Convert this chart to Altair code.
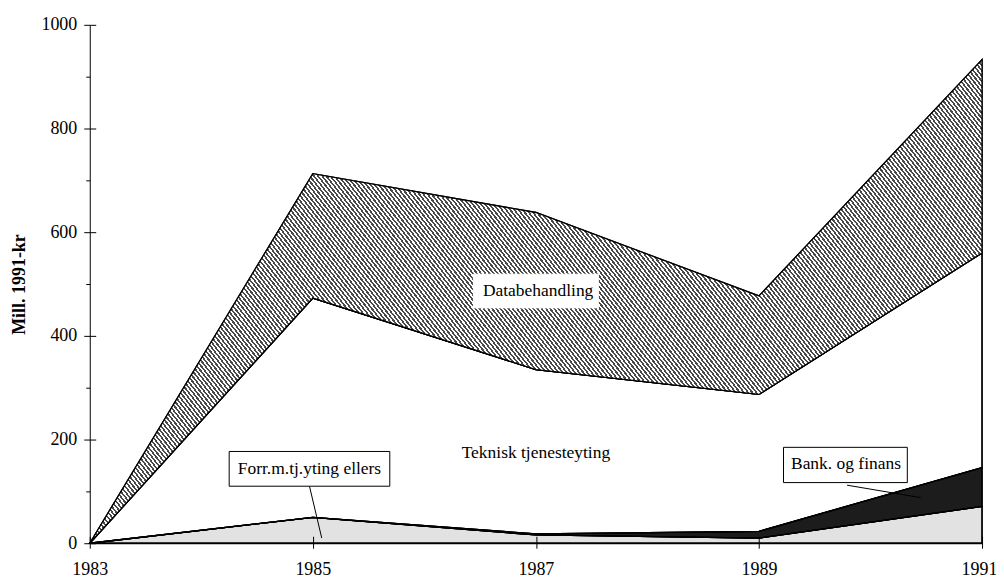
import altair as alt
import pandas as pd

years = [1983, 1985, 1987, 1989, 1991]
series_names = ["Forr.m.tj.yting ellers", "Bank. og finans", "Teknisk tjenesteyting", "Databehandling"]
forr = [0, 50, 16, 10, 71]
bank = [0, 0, 2, 13, 75]
teknisk = [0, 423, 317, 264, 414]
databeh = [0, 240, 303, 190, 373]
fills = ["#e2e2e2", "#1c1c1c", "#ffffff", "#a0a0a0"]

x_ticks = [1983, 1985, 1987, 1989, 1991]
y_ticks = list(range(0, 1001, 100))

# annotation texts (data coordinates)
ann_text = ["Databehandling", "Teknisk tjenesteyting", "Forr.m.tj.yting ellers", "Bank. og finans"]
ann_x = [1987.02, 1987.0, 1984.97, 1989.78]
ann_y = [487, 175, 143, 153]
box_x1 = [1986.44, 1984.25, 1989.22]
box_x2 = [1987.56, 1985.69, 1990.33]
box_y1 = [454, 110, 117]
box_y2 = [519, 177, 185]
box_border = ["white", "black", "black"]
lead_x1 = [1984.97, 1989.79]
lead_x2 = [1985.08, 1990.45]
lead_y1 = [110, 112]
lead_y2 = [10, 88]

FONT = "Liberation Serif"

rows = []
for rank, (name, vals) in enumerate(zip(series_names, [forr, bank, teknisk, databeh])):
    for yr, v in zip(years, vals):
        rows.append({"year": yr, "value": v, "series": name, "rank": rank})
df = pd.DataFrame(rows)

x_scale = alt.Scale(domain=[1983, 1991], nice=False, zero=False)
y_scale = alt.Scale(domain=[0, 1000], nice=False)

major = "datum.value % 200 == 0"

x_axis = alt.Axis(values=x_ticks, format="d", title=None, tickSize=5,
                  labelPadding=12, labelFont=FONT, labelFontSize=18,
                  labelColor="black", domainColor="black", tickColor="black",
                  labelOffset={"condition": {"test": "datum.value == 1991", "value": -3}, "value": 0},
                  grid=True, gridDash=[0, 513, 7, 3000], gridColor="black", gridWidth=1,
                  labelFlush=False, zindex=1)
y_axis = alt.Axis(values=y_ticks, format="d",
                  labelExpr="datum.value % 200 == 0 ? datum.label : ''",
                  tickSize={"condition": {"test": major, "value": 6}, "value": 4},
                  labelPadding=7, labelFont=FONT, labelFontSize=18, labelColor="black",
                  domainColor="black", tickColor="black",
                  grid=True, gridDash=[6, 3000], gridColor="black", gridWidth=1,
                  gridOpacity={"condition": {"test": major, "value": 1}, "value": 0},
                  title="Mill. 1991-kr", titleFont=FONT, titleFontSize=18,
                  titleFontWeight="bold", titleColor="black",
                  titleX=-70, titleY=260, titleAngle=-90,
                  titleAlign="center", titleBaseline="middle",
                  labelFlush=False, zindex=1)

# fine diagonal hatch (striped gradient) for Databehandling
n_stripes = 330
stops = []
for i in range(n_stripes):
    a = i / n_stripes
    b = (i + 0.5) / n_stripes
    c = (i + 1) / n_stripes
    stops += [{"offset": a, "color": "#4a4a4a"}, {"offset": b, "color": "#4a4a4a"},
              {"offset": b, "color": "#ffffff"}, {"offset": c, "color": "#ffffff"}]
hatch = {"gradient": "linear", "x1": 0, "y1": 1, "x2": 1.3, "y2": 0.45, "stops": stops}

areas = alt.Chart(df).mark_area(stroke="black", strokeWidth=1.3, opacity=1).encode(
    x=alt.X("year:Q", scale=x_scale, axis=x_axis, title=None),
    y=alt.Y("value:Q", stack="zero", scale=y_scale, axis=y_axis, title="Mill. 1991-kr"),
    color=alt.Color("series:N", scale=alt.Scale(domain=series_names, range=fills), legend=None),
    order=alt.Order("rank:Q", sort="ascending"),
)

hatched = alt.Chart(df).mark_area(stroke="black", strokeWidth=1.3).encode(
    x=alt.X("year:Q", scale=x_scale, axis=x_axis, title=None),
    y=alt.Y("value:Q", stack="zero", scale=y_scale, axis=y_axis, title="Mill. 1991-kr"),
    detail="series:N",
    fill=alt.condition(alt.datum.series == "Databehandling", alt.value(hatch), alt.value("transparent")),
    order=alt.Order("rank:Q", sort="ascending"),
)

ann_df = pd.DataFrame({"t": ann_text, "x": ann_x, "y": ann_y})
box_df = pd.DataFrame({"x1": box_x1, "x2": box_x2, "y1": box_y1, "y2": box_y2, "b": box_border})
lead_df = pd.DataFrame({"x1": lead_x1, "x2": lead_x2, "y1": lead_y1, "y2": lead_y2})

leaders = alt.Chart(lead_df).mark_rule(color="black", strokeWidth=1).encode(
    x=alt.X("x1:Q", scale=x_scale, axis=x_axis, title=None), x2="x2:Q",
    y=alt.Y("y1:Q", scale=y_scale, axis=y_axis, title="Mill. 1991-kr"), y2="y2:Q",
)

boxes = alt.Chart(box_df).mark_rect(fill="white", strokeWidth=1).encode(
    x=alt.X("x1:Q", scale=x_scale, axis=x_axis, title=None), x2="x2:Q",
    y=alt.Y("y1:Q", scale=y_scale, axis=y_axis, title="Mill. 1991-kr"), y2="y2:Q",
    stroke=alt.Stroke("b:N", scale=None),
)

texts = alt.Chart(ann_df).mark_text(font=FONT, fontSize=17.5, color="black",
                                    align="center", baseline="middle").encode(
    x=alt.X("x:Q", scale=x_scale, axis=x_axis, title=None),
    y=alt.Y("y:Q", scale=y_scale, axis=y_axis, title="Mill. 1991-kr"),
    text="t:N",
)

chart = alt.layer(areas, hatched, leaders, boxes, texts).properties(
    width=895, height=520,
    autosize=alt.AutoSizeParams(type="none"),
    padding={"left": 82, "top": 16, "right": 14, "bottom": 36},
).configure(background="white").configure_view(stroke=None)

chart.save("out.html", embed_options={"renderer": "svg", "actions": False})
